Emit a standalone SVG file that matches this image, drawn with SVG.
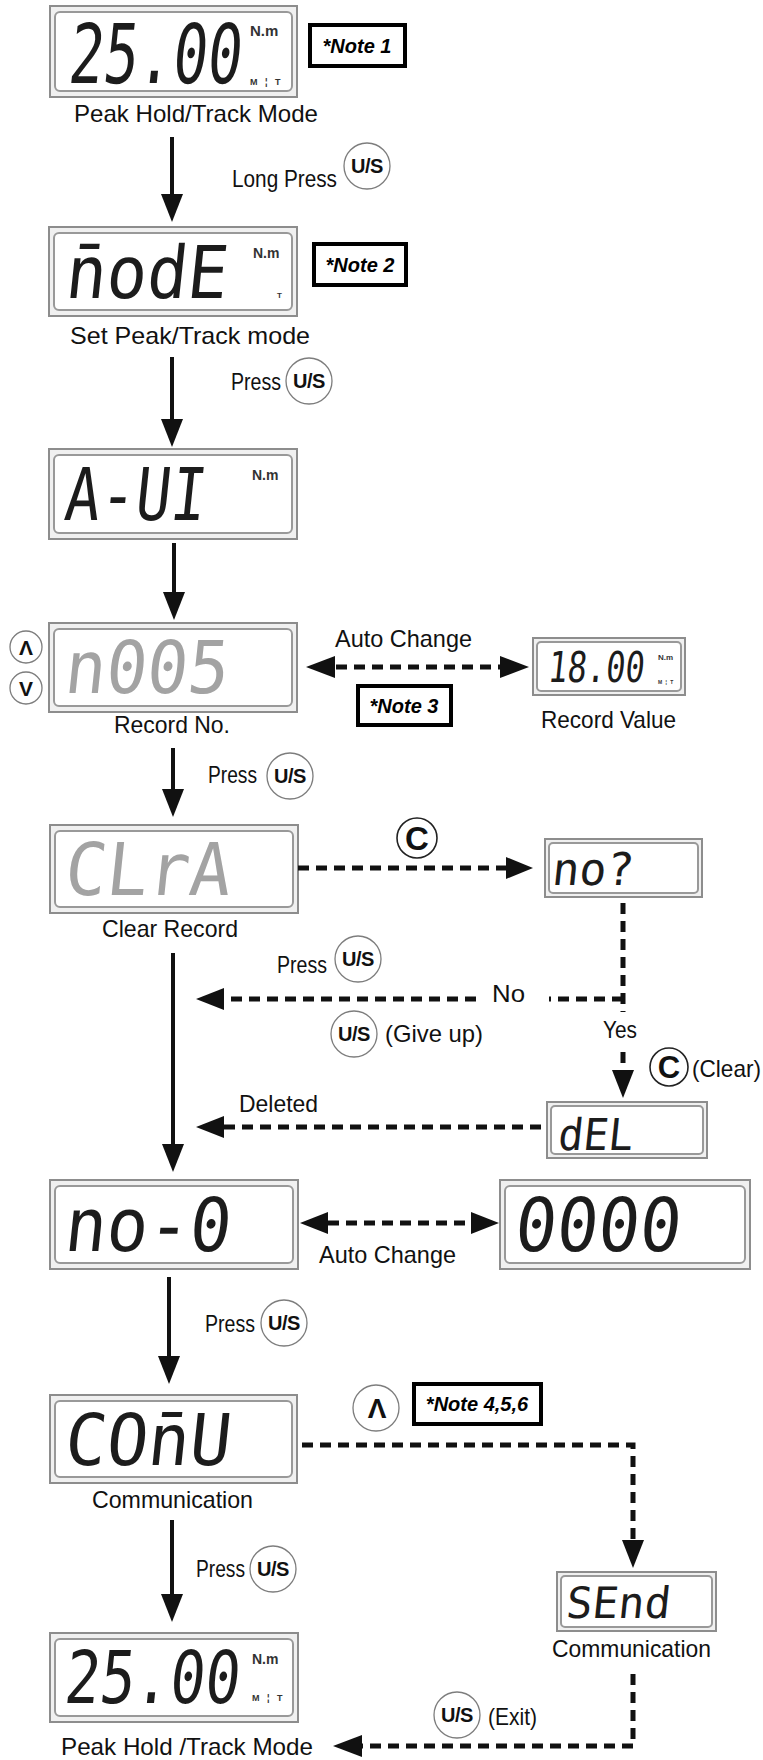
<svg xmlns="http://www.w3.org/2000/svg" width="763" height="1760" viewBox="0 0 763 1760">
<style>
.lo{fill:#f0f0f0;stroke:#8d8d8d;stroke-width:2}
.li{fill:#fff;stroke:#999;stroke-width:2}
.seg{font-family:"DejaVu Sans Mono","Liberation Mono",monospace;fill:#1c1c1c}
.dim{fill:#a3a3a3}
.unit{font-family:"Liberation Sans",Arial,sans-serif;font-weight:bold;fill:#333}
.mt{font-family:"Liberation Sans",Arial,sans-serif;font-weight:bold;fill:#333;word-spacing:5px}
.lbl{font-family:"Liberation Sans",Arial,sans-serif;font-size:24px;fill:#111}
.nb{fill:#fff;stroke:#000;stroke-width:4}
.nt{font-family:"Liberation Sans",Arial,sans-serif;font-weight:bold;font-style:italic;font-size:20px;text-anchor:middle;fill:#000}
.btn{fill:#fff;stroke:#7d7d7d;stroke-width:1.3}
.btnc{fill:#fff;stroke:#222;stroke-width:1.6}
.bt{font-family:"Liberation Sans",Arial,sans-serif;font-weight:bold;text-anchor:middle;fill:#111}
.shaft{stroke:#111;stroke-width:4;fill:none}
.dash{stroke:#111;stroke-width:5;stroke-dasharray:11 7;fill:none}
.head{fill:#111}
</style>

<!-- LCD nodes -->
<g id="lcd-peak-top">
<rect class="lo" x="50" y="6" width="247" height="91"/>
<rect class="li" x="55" y="12" width="237" height="79" rx="5"/>
<text class="seg" transform="translate(67,83) skewX(-6) scale(1,1.434)" font-size="57.4">25.00</text>
<text class="unit" x="250" y="36" font-size="15">N.m</text>
<text class="mt" x="250" y="85" font-size="9">M ¦ T</text>
<text class="lbl" x="74" y="122" textLength="244" lengthAdjust="spacingAndGlyphs">Peak Hold/Track Mode</text>
</g>
<g id="note1"><rect class="nb" x="310" y="25" width="95" height="41"/><text class="nt" x="357" y="53">*Note 1</text></g>

<g id="lcd-mode">
<rect class="lo" x="49" y="227" width="248" height="89"/>
<rect class="li" x="54" y="233" width="238" height="77" rx="5"/>
<text class="seg" transform="translate(64,298) skewX(-6) scale(1,1.082)" font-size="67.2">n̄odE</text>
<text class="unit" x="253" y="258" font-size="14">N.m</text>
<text class="unit" x="277" y="298" font-size="8">T</text>
<text class="lbl" x="70" y="344" textLength="240" lengthAdjust="spacingAndGlyphs">Set Peak/Track mode</text>
</g>
<g id="note2"><rect class="nb" x="314" y="244" width="92" height="41"/><text class="nt" x="360" y="272">*Note 2</text></g>

<g id="lcd-aui">
<rect class="lo" x="49" y="449" width="248" height="90"/>
<rect class="li" x="54" y="455" width="238" height="78" rx="5"/>
<text class="seg" transform="translate(63,520) skewX(-6) scale(1,1.243)" font-size="58.5">A-UI</text>
<text class="unit" x="252" y="480" font-size="14">N.m</text>
</g>

<g id="lcd-recno">
<rect class="lo" x="49" y="623" width="248" height="89"/>
<rect class="li" x="54" y="629" width="238" height="77" rx="5"/>
<text class="seg dim" transform="translate(63,693) skewX(-6) scale(1,1.069)" font-size="68">n005</text>
<text class="lbl" x="114" y="733" textLength="116" lengthAdjust="spacingAndGlyphs">Record No.</text>
</g>
<g id="btn-up-small"><circle class="btn" cx="26" cy="647" r="16"/><text class="bt" x="26" y="655" font-size="21">Λ</text></g>
<g id="btn-down-small"><circle class="btn" cx="26" cy="688" r="16"/><text class="bt" x="26" y="696" font-size="21">V</text></g>

<g id="lcd-recval">
<rect class="lo" x="533" y="638" width="152" height="57"/>
<rect class="li" x="537" y="642" width="144" height="49" rx="4"/>
<text class="seg" transform="translate(547,682) skewX(-6) scale(1,1.33)" font-size="32">18.00</text>
<text class="unit" x="658" y="660" font-size="8">N.m</text>
<text class="mt" x="658" y="684" font-size="5" style="word-spacing:2px">M ¦ T</text>
<text class="lbl" x="541" y="728" textLength="135" lengthAdjust="spacingAndGlyphs">Record Value</text>
</g>
<g id="note3"><rect class="nb" x="358" y="686" width="93" height="39"/><text class="nt" x="404" y="713">*Note 3</text></g>

<g id="lcd-clra">
<rect class="lo" x="50" y="825" width="248" height="88"/>
<rect class="li" x="55" y="831" width="238" height="76" rx="5"/>
<text class="seg dim" transform="translate(63,895) skewX(-6) scale(1,1.055)" font-size="68.9">CLrA</text>
<text class="lbl" x="102" y="937" textLength="136" lengthAdjust="spacingAndGlyphs">Clear Record</text>
</g>

<g id="lcd-no">
<rect class="lo" x="545" y="839" width="157" height="58"/>
<rect class="li" x="549" y="843" width="149" height="50" rx="4"/>
<text class="seg" transform="translate(551,885) skewX(-6)" font-size="45">no?</text>
</g>

<g id="lcd-del">
<rect class="lo" x="547" y="1102" width="160" height="56"/>
<rect class="li" x="551" y="1106" width="152" height="48" rx="4"/>
<text class="seg" transform="translate(557,1150) skewX(-6) scale(1,1.055)" font-size="41.6">dEL</text>
</g>

<g id="lcd-no0">
<rect class="lo" x="50" y="1180" width="248" height="89"/>
<rect class="li" x="55" y="1186" width="238" height="77" rx="5"/>
<text class="seg" transform="translate(63,1251) skewX(-6) scale(1,1.075)" font-size="68.9">no-0</text>
</g>

<g id="lcd-0000">
<rect class="lo" x="500" y="1180" width="250" height="89"/>
<rect class="li" x="505" y="1186" width="240" height="77" rx="5"/>
<text class="seg" transform="translate(513,1251) skewX(-6) scale(1,1.075)" font-size="68.9">0000</text>
</g>

<g id="lcd-comu">
<rect class="lo" x="50" y="1395" width="247" height="88"/>
<rect class="li" x="55" y="1401" width="237" height="76" rx="5"/>
<text class="seg" transform="translate(63,1465) skewX(-6) scale(1,1.035)" font-size="68.9">COn̄U</text>
<text class="lbl" x="92" y="1508" textLength="161" lengthAdjust="spacingAndGlyphs">Communication</text>
</g>
<g id="btn-up-comm"><circle class="btn" cx="376" cy="1408" r="23"/><text class="bt" x="377" y="1418" font-size="28">Λ</text></g>
<g id="note456"><rect class="nb" x="414" y="1384" width="127" height="40"/><text class="nt" x="477" y="1411">*Note 4,5,6</text></g>

<g id="lcd-send">
<rect class="lo" x="557" y="1572" width="159" height="59"/>
<rect class="li" x="561" y="1576" width="151" height="51" rx="4"/>
<text class="seg" transform="translate(565,1618) skewX(-6)" font-size="43.3">SEnd</text>
<text class="lbl" x="552" y="1657" textLength="159" lengthAdjust="spacingAndGlyphs">Communication</text>
</g>

<g id="lcd-peak-bottom">
<rect class="lo" x="50" y="1633" width="248" height="89"/>
<rect class="li" x="55" y="1639" width="238" height="77" rx="5"/>
<text class="seg" transform="translate(63,1703) skewX(-6) scale(1,1.252)" font-size="58.1">25.00</text>
<text class="unit" x="252" y="1664" font-size="14">N.m</text>
<text class="mt" x="252" y="1701" font-size="9">M ¦ T</text>
<text class="lbl" x="61" y="1755" textLength="252" lengthAdjust="spacingAndGlyphs">Peak Hold /Track Mode</text>
</g>

<!-- connectors -->
<g id="connectors">
<line class="shaft" x1="172" y1="137" x2="172" y2="196"/><polygon class="head" points="161,194 183,194 172,222"/>
<line class="shaft" x1="172" y1="357" x2="172" y2="421"/><polygon class="head" points="161,419 183,419 172,447"/>
<line class="shaft" x1="174" y1="543" x2="174" y2="594"/><polygon class="head" points="163,592 185,592 174,620"/>
<line class="shaft" x1="173" y1="748" x2="173" y2="791"/><polygon class="head" points="162,789 184,789 173,817"/>
<line class="shaft" x1="173" y1="953" x2="173" y2="1146"/><polygon class="head" points="162,1144 184,1144 173,1172"/>
<line class="shaft" x1="169" y1="1277" x2="169" y2="1358"/><polygon class="head" points="158,1356 180,1356 169,1384"/>
<line class="shaft" x1="172" y1="1520" x2="172" y2="1596"/><polygon class="head" points="161,1594 183,1594 172,1622"/>

<line class="dash" x1="336" y1="667" x2="501" y2="667"/>
<polygon class="head" points="306,667 335,656 335,678"/><polygon class="head" points="529,667 500,656 500,678"/>

<line class="dash" x1="298" y1="868" x2="507" y2="868"/>
<polygon class="head" points="533,868 506,857 506,879"/>

<path class="dash" d="M623 903 V1012"/>
<path class="dash" d="M623 1052 V1071"/>
<polygon class="head" points="623,1098 612,1070 634,1070"/>
<path class="dash" d="M623 999 H549"/>
<path class="dash" d="M476 999 H222"/>
<polygon class="head" points="196,999 224,988 224,1010"/>

<path class="dash" d="M541 1127 H222"/>
<polygon class="head" points="196,1127 224,1116 224,1138"/>

<line class="dash" x1="328" y1="1223" x2="472" y2="1223"/>
<polygon class="head" points="300,1223 328,1212 328,1234"/><polygon class="head" points="499,1223 471,1212 471,1234"/>

<path class="dash" d="M302 1445 H633 V1541"/>
<polygon class="head" points="633,1568 622,1540 644,1540"/>

<path class="dash" d="M633 1674 V1746 H361"/>
<polygon class="head" points="333,1746 362,1735 362,1757"/>
</g>

<!-- connector labels and buttons -->
<g id="lbl-longpress"><text class="lbl" x="232" y="187" textLength="105" lengthAdjust="spacingAndGlyphs">Long Press</text><circle class="btn" cx="367" cy="166" r="23"/><text class="bt" x="367" y="173" font-size="20" letter-spacing="-0.5">U/S</text></g>
<g id="lbl-press1"><text class="lbl" x="231" y="390" textLength="50" lengthAdjust="spacingAndGlyphs">Press</text><circle class="btn" cx="309" cy="381" r="23"/><text class="bt" x="309" y="388" font-size="20" letter-spacing="-0.5">U/S</text></g>
<g id="lbl-auto1"><text class="lbl" x="335" y="647" textLength="137" lengthAdjust="spacingAndGlyphs">Auto Change</text></g>
<g id="lbl-press2"><text class="lbl" x="208" y="783" textLength="49" lengthAdjust="spacingAndGlyphs">Press</text><circle class="btn" cx="290" cy="776" r="23"/><text class="bt" x="290" y="783" font-size="20" letter-spacing="-0.5">U/S</text></g>
<g id="btn-c1"><circle class="btnc" cx="417" cy="838" r="20"/><text class="bt" x="417" y="850" font-size="33">C</text></g>
<g id="lbl-press3"><text class="lbl" x="277" y="973" textLength="50" lengthAdjust="spacingAndGlyphs">Press</text><circle class="btn" cx="358" cy="959" r="23"/><text class="bt" x="358" y="966" font-size="20" letter-spacing="-0.5">U/S</text></g>
<g id="lbl-no"><text class="lbl" x="492" y="1002" textLength="33" lengthAdjust="spacingAndGlyphs">No</text></g>
<g id="lbl-giveup"><circle class="btn" cx="354" cy="1034" r="23"/><text class="bt" x="354" y="1041" font-size="20" letter-spacing="-0.5">U/S</text><text class="lbl" x="385" y="1042" textLength="98" lengthAdjust="spacingAndGlyphs">(Give up)</text></g>
<g id="lbl-yes"><text class="lbl" x="603" y="1038" textLength="34" lengthAdjust="spacingAndGlyphs">Yes</text></g>
<g id="lbl-clear"><circle class="btnc" cx="669" cy="1067" r="19"/><text class="bt" x="669" y="1078" font-size="31">C</text><text class="lbl" x="692" y="1077" textLength="69" lengthAdjust="spacingAndGlyphs">(Clear)</text></g>
<g id="lbl-deleted"><text class="lbl" x="239" y="1112" textLength="79" lengthAdjust="spacingAndGlyphs">Deleted</text></g>
<g id="lbl-auto2"><text class="lbl" x="319" y="1263" textLength="137" lengthAdjust="spacingAndGlyphs">Auto Change</text></g>
<g id="lbl-press4"><text class="lbl" x="205" y="1332" textLength="50" lengthAdjust="spacingAndGlyphs">Press</text><circle class="btn" cx="284" cy="1323" r="23"/><text class="bt" x="284" y="1330" font-size="20" letter-spacing="-0.5">U/S</text></g>
<g id="lbl-press5"><text class="lbl" x="196" y="1577" textLength="49" lengthAdjust="spacingAndGlyphs">Press</text><circle class="btn" cx="273" cy="1569" r="23"/><text class="bt" x="273" y="1576" font-size="20" letter-spacing="-0.5">U/S</text></g>
<g id="lbl-exit"><circle class="btn" cx="457" cy="1715" r="23"/><text class="bt" x="457" y="1722" font-size="20" letter-spacing="-0.5">U/S</text><text class="lbl" x="488" y="1725" textLength="49" lengthAdjust="spacingAndGlyphs">(Exit)</text></g>
</svg>
